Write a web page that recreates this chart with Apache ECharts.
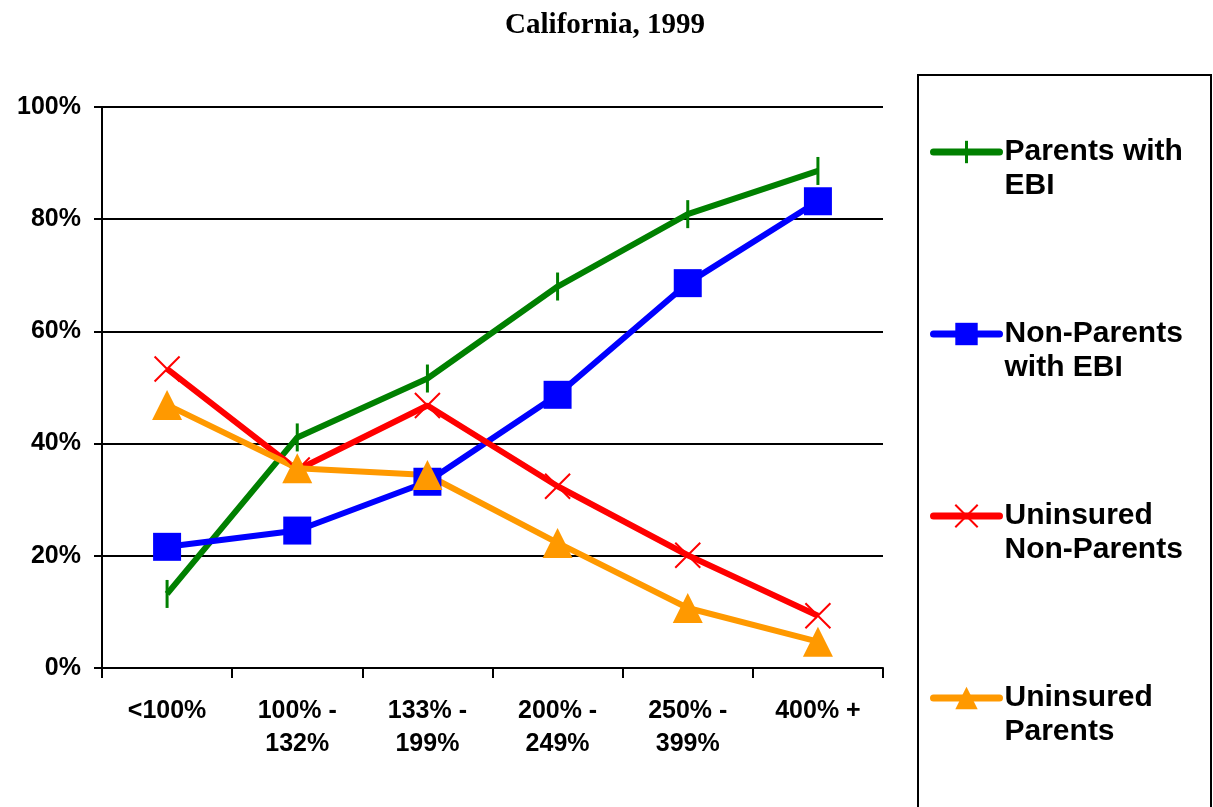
<!DOCTYPE html>
<html>
<head>
<meta charset="utf-8">
<script src="https://cdn.jsdelivr.net/npm/echarts@6/dist/echarts.min.js"></script>
<style>
html,body{margin:0;padding:0;background:#fff;}
#chart{width:1213px;height:807px;}
</style>
</head>
<body>
<div id="chart"></div>
<script>
const titleText = 'California, 1999';
const categories = ['<100%', '100% -\n132%', '133% -\n199%', '200% -\n249%', '250% -\n399%', '400% +'];
const yTicks = [0, 20, 40, 60, 80, 100];
const parentsEBI = [13.2, 41.1, 51.6, 68.0, 80.9, 88.6];
const nonParentsEBI = [21.6, 24.5, 33.2, 48.7, 68.6, 83.2];
const uninsuredNonParents = [53.3, 35.3, 46.8, 32.4, 20.1, 9.3];
const uninsuredParents = [46.9, 35.6, 34.4, 22.3, 10.7, 4.7];
const seriesNames = ['Parents with\nEBI', 'Non-Parents\nwith EBI', 'Uninsured\nNon-Parents', 'Uninsured\nParents'];

const chart = echarts.init(document.getElementById('chart'), null, {renderer: 'canvas'});
const FONT = '"Liberation Sans", Arial, sans-serif';
function lineSeries(name, data, color, symbol, size, extraItem) {
  return {
    name: name,
    type: 'line',
    data: data,
    symbol: symbol,
    symbolSize: size,
    lineStyle: {color: color, width: 6},
    itemStyle: Object.assign({color: color}, extraItem || {}),
    emphasis: {disabled: true},
    animation: false,
    z: 3
  };
}
chart.setOption({
  animation: false,
  backgroundColor: '#ffffff',
  title: {
    text: titleText,
    left: 600,
    top: 6,
    textAlign: 'center',
    textStyle: {fontFamily: '"Liberation Serif", "Times New Roman", serif', fontWeight: 'bold', fontSize: 29, color: '#000'}
  },
  grid: {left: 102, top: 107, width: 781, height: 561, containLabel: false},
  xAxis: {
    type: 'category',
    data: categories,
    boundaryGap: true,
    axisLine: {lineStyle: {color: '#000', width: 2}},
    axisTick: {show: true, length: 10, lineStyle: {color: '#000', width: 2}},
    axisLabel: {color: '#000', fontFamily: FONT, fontWeight: 'bold', fontSize: 25, lineHeight: 33, margin: 27, interval: 0}
  },
  yAxis: {
    type: 'value',
    min: 0,
    max: 100,
    interval: 20,
    axisLine: {show: true, lineStyle: {color: '#000', width: 2}},
    axisTick: {show: true, length: 8, lineStyle: {color: '#000', width: 2}},
    splitLine: {show: true, lineStyle: {color: '#000', width: 2}},
    axisLabel: {
      color: '#000', fontFamily: FONT, fontWeight: 'bold', fontSize: 25, margin: 21,
      formatter: function (v) { return yTicks.indexOf(v) >= 0 ? v + '%' : ''; }
    }
  },
  legend: {
    orient: 'vertical',
    left: 930,
    top: 101,
    padding: 0,
    itemGap: 80,
    itemWidth: 66,
    itemHeight: 28,
    selectedMode: false,
    data: [
      {name: seriesNames[0], itemStyle: {borderWidth: 3}},
      {name: seriesNames[1]},
      {name: seriesNames[2], itemStyle: {borderWidth: 2}},
      {name: seriesNames[3]}
    ],
    formatter: function (name) { return '\n' + name; },
    lineStyle: {width: 7, cap: 'round'},
    textStyle: {color: '#000', fontFamily: FONT, fontWeight: 'bold', fontSize: 30, lineHeight: 34}
  },
  graphic: [{
    type: 'rect',
    shape: {x: 918, y: 75, width: 293, height: 760},
    style: {fill: 'none', stroke: '#000', lineWidth: 2},
    silent: true
  }],
  series: [
    lineSeries(seriesNames[0], parentsEBI, '#008000', 'path://M0,5L0,5M5,0L5,10M10,5L10,5', 28, {borderColor: '#008000', borderWidth: 3}),
    lineSeries(seriesNames[1], nonParentsEBI, '#0000FF', 'rect', 28, {borderWidth: 0}),
    lineSeries(seriesNames[2], uninsuredNonParents, '#FF0000', 'path://M0,0L10,10M10,0L0,10', 25, {borderColor: '#FF0000', borderWidth: 2}),
    lineSeries(seriesNames[3], uninsuredParents, '#FF9900', 'triangle', 30, {borderWidth: 0})
  ]
});
</script>
</body>
</html>
